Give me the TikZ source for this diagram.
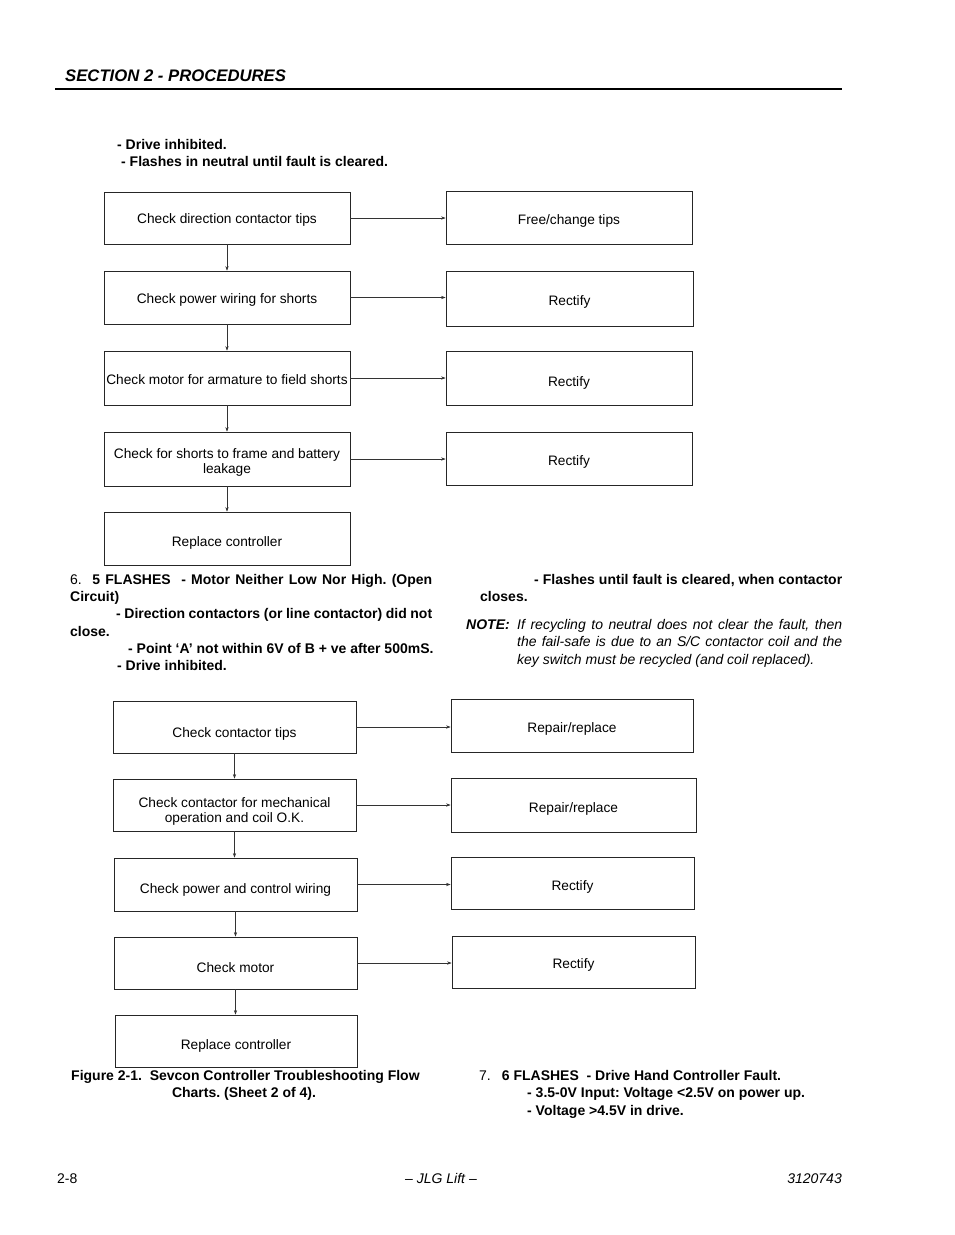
\documentclass[tikz,border=0pt]{standalone}
\usepackage{fontspec}
\setmainfont{Liberation Sans}
\usetikzlibrary{arrows.meta}
\frenchspacing
\begin{document}
\begin{tikzpicture}[x=1pt,y=-1pt,
  box/.style={draw=black!85, line width=0.7pt, inner sep=0pt},
  bt/.style={align=center, inner sep=0pt, font=\fontsize{13.7}{15}\selectfont},
  conn/.style={draw=black!80, line width=0.6pt, -{Stealth[length=4.5pt,width=3.2pt]}},
  body/.style={anchor=base west, inner sep=0pt, font=\fontsize{14}{17}\selectfont\bfseries},
  bodyit/.style={anchor=base west, inner sep=0pt, font=\fontsize{14}{17}\selectfont\itshape},
  foot/.style={anchor=base, inner sep=0pt, font=\fontsize{14}{17}\selectfont},
]
\useasboundingbox (0,0) rectangle (954,1235);
\fill[white] (0,0) rectangle (954,1235);

% header
\node[anchor=base west, inner sep=0pt, font=\fontsize{16.7}{20}\selectfont\bfseries\itshape] (hdr) at (65,81) {SECTION 2 - PROCEDURES};
\coordinate (rl) at (55,89);
\coordinate (rr) at (842,89);
\draw[line width=1.1pt] (rl) -- (rr);

% top text
\node[body] (t1) at (117,149) {- Drive inhibited.};
\node[body] (t2) at (121,166) {- Flashes in neutral until fault is cleared.};

% chart 1
\node[box, minimum width=246pt, minimum height=52pt] (a1) at (227,218) {};
\node[box, minimum width=246pt, minimum height=53pt] (a2) at (227,297.5) {};
\node[box, minimum width=246pt, minimum height=54pt] (a3) at (227,378) {};
\node[box, minimum width=246pt, minimum height=54pt] (a4) at (227,459) {};
\node[box, minimum width=246pt, minimum height=53pt] (a5) at (227,538.5) {};
\node[box, minimum width=246pt, minimum height=53pt] (b1) at (569,217.5) {};
\node[box, minimum width=247pt, minimum height=55pt] (b2) at (569.5,298.5) {};
\node[box, minimum width=246pt, minimum height=54pt] (b3) at (569,378) {};
\node[box, minimum width=246pt, minimum height=53pt] (b4) at (569,458.5) {};

\node[bt] (a1t) at ([yshift=-2pt]a1.center) {Check direction contactor tips};
\node[bt] (a2t) at ([yshift=-2.5pt]a2.center) {Check power wiring for shorts};
\node[bt] (a3t) at ([yshift=-2pt]a3.center) {Check motor for armature to field shorts};
\node[bt] (a4t) at ([yshift=-3.5pt]a4.center) {Check for shorts to frame and battery\\leakage};
\node[bt] (a5t) at ([yshift=-4.5pt]a5.center) {Replace controller};
\node[bt] (b1t) at ([yshift=-3.5pt]b1.center) {Free/change tips};
\node[bt] (b2t) at ([yshift=-3.5pt]b2.center) {Rectify};
\node[bt] (b3t) at ([yshift=-5pt]b3.center) {Rectify};
\node[bt] (b4t) at ([yshift=-3pt]b4.center) {Rectify};

\draw[conn] (a1.south) -- (a2.north);
\draw[conn] (a2.south) -- (a3.north);
\draw[conn] (a3.south) -- (a4.north);
\draw[conn] (a4.south) -- (a5.north);
\draw[conn] (a1.east) -- (a1.east -| b1.west);
\draw[conn] (a2.east) -- (a2.east -| b2.west);
\draw[conn] (a3.east) -- (a3.east -| b3.west);
\draw[conn] (a4.east) -- (a4.east -| b4.west);

% section 6 text
\node[body] (s1) at (70,584) {\makebox[362pt][s]{\mdseries 6.\ \ \bfseries 5 FLASHES\ \ - Motor Neither Low Nor High. (Open}};
\node[body] (s2) at (70,601) {Circuit)};
\node[body] (s3) at (116,618) {\makebox[316pt][s]{- Direction contactors (or line contactor) did not}};
\node[body] (s4) at (70,636) {close.};
\node[body] (s5) at (128,653) {- Point ‘A’ not within 6V of B + ve after 500mS.};
\node[body] (s6) at (117,670) {- Drive inhibited.};

\node[body] (r1) at (534,584) {\makebox[308pt][s]{- Flashes until fault is cleared, when contactor}};
\node[body] (r2) at (480,601) {closes.};
\node[body, font=\fontsize{14}{17}\selectfont\bfseries\itshape] (n0) at (466,629) {NOTE:};
\node[bodyit] (n1) at (517,629) {\makebox[325pt][s]{If recycling to neutral does not clear the fault, then}};
\node[bodyit] (n2) at (517,646) {\makebox[325pt][s]{the fail-safe is due to an S/C contactor coil and the}};
\node[bodyit] (n3) at (517,664) {key switch must be recycled (and coil replaced).};

% chart 2
\node[box, minimum width=243pt, minimum height=52pt] (c1) at (234.5,727) {};
\node[box, minimum width=243pt, minimum height=52pt] (c2) at (234.5,805) {};
\node[box, minimum width=243pt, minimum height=53pt] (c3) at (235.5,884.5) {};
\node[box, minimum width=243pt, minimum height=52pt] (c4) at (235.5,963) {};
\node[box, minimum width=242pt, minimum height=52pt] (c5) at (236,1041) {};
\node[box, minimum width=242pt, minimum height=53pt] (d1) at (572,725.5) {};
\node[box, minimum width=245pt, minimum height=54pt] (d2) at (573.5,805) {};
\node[box, minimum width=243pt, minimum height=52pt] (d3) at (572.5,883) {};
\node[box, minimum width=243pt, minimum height=52pt] (d4) at (573.5,962) {};

\node[bt] (c1t) at ([yshift=-7pt]c1.center) {Check contactor tips};
\node[bt] (c2t) at ([yshift=-6pt]c2.center) {Check contactor for mechanical\\operation and coil O.K.};
\node[bt] (c3t) at ([yshift=-5.5pt]c3.center) {Check power and control wiring};
\node[bt] (c4t) at ([yshift=-5pt]c4.center) {Check motor};
\node[bt] (c5t) at ([yshift=-5pt]c5.center) {Replace controller};
\node[bt] (d1t) at ([yshift=-3.5pt]d1.center) {Repair/replace};
\node[bt] (d2t) at ([yshift=-4pt]d2.center) {Repair/replace};
\node[bt] (d3t) at ([yshift=-4pt]d3.center) {Rectify};
\node[bt] (d4t) at ([yshift=-3pt]d4.center) {Rectify};

\draw[conn] (c1.south) -- (c1.south |- c2.north);
\draw[conn] (c2.south) -- (c2.south |- c3.north);
\draw[conn] (c3.south) -- (c3.south |- c4.north);
\draw[conn] (c4.south) -- (c4.south |- c5.north);
\draw[conn] (c1.east) -- (c1.east -| d1.west);
\draw[conn] (c2.east) -- (c2.east -| d2.west);
\draw[conn] (c3.east) -- (c3.east -| d3.west);
\draw[conn] (c4.east) -- (c4.east -| d4.west);

% caption
\node[body] (f1) at (71,1080) {Figure 2-1.\ \ Sevcon Controller Troubleshooting Flow};
\node[body, anchor=base] (f2) at (244,1097) {Charts. (Sheet 2 of 4).};

% section 7
\node[body] (u1) at (479,1080) {\mdseries 7.\hspace{11pt}\bfseries 6 FLASHES\ \ - Drive Hand Controller Fault.};
\node[body] (u2) at (527,1097) {- 3.5-0V Input: Voltage <2.5V on power up.};
\node[body] (u3) at (527,1115) {- Voltage >4.5V in drive.};

% footer
\node[foot, anchor=base west] (p1) at (57,1183) {2-8};
\node[foot, font=\fontsize{14}{17}\selectfont\itshape] (p2) at (441,1183) {– JLG Lift –};
\node[foot, anchor=base east, font=\fontsize{14}{17}\selectfont\itshape] (p3) at (842,1183) {3120743};
\end{tikzpicture}
\end{document}
